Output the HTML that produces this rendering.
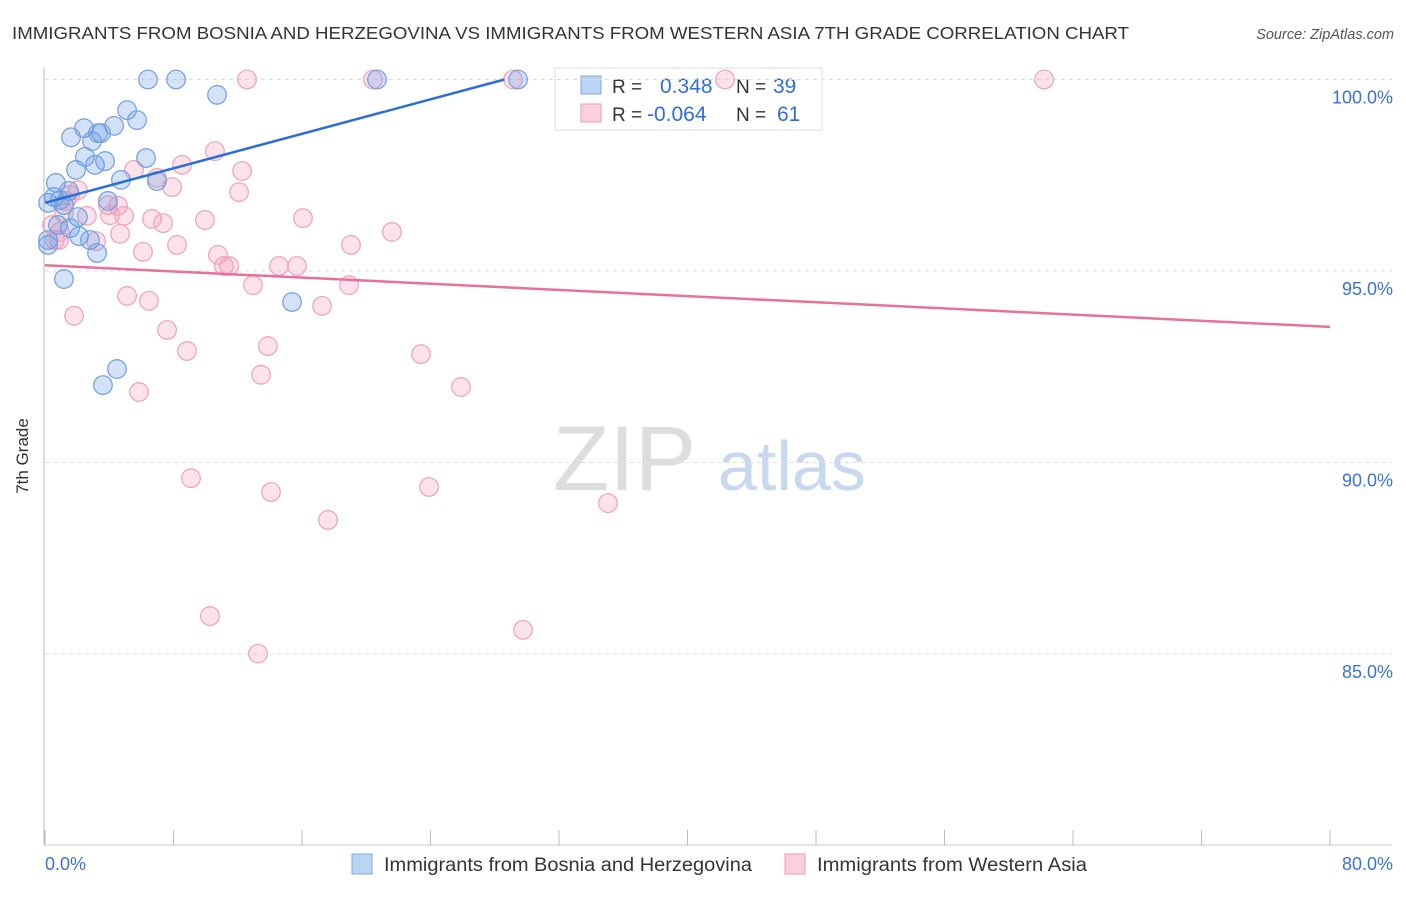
<!DOCTYPE html>
<html><head><meta charset="utf-8"><style>
body{margin:0;background:#fff;font-family:"Liberation Sans",sans-serif}
svg text{font-family:"Liberation Sans",sans-serif}
</style></head><body>
<svg id="chart" width="1406" height="892">
<text x="12" y="39" font-size="17.5" fill="#333" textLength="1117" lengthAdjust="spacingAndGlyphs">IMMIGRANTS FROM BOSNIA AND HERZEGOVINA VS IMMIGRANTS FROM WESTERN ASIA 7TH GRADE CORRELATION CHART</text>
<text x="1394" y="39" font-size="14.5" fill="#555" font-style="italic" text-anchor="end">Source: ZipAtlas.com</text>
<text x="28" y="456" font-size="17" fill="#333" transform="rotate(-90 28 456)" text-anchor="middle">7th Grade</text>
<g><text x="553" y="490" font-size="92" fill="#ddd" font-family="Liberation Serif,serif">ZIP</text><text x="718" y="490" font-size="70" fill="#c8d8ef">atlas</text></g>
<g>
<rect x="555" y="68" width="267" height="62" fill="#fff" stroke="#ddd"/>
<rect x="581" y="76" width="20" height="18" fill="#bcd4f3" stroke="#7ea8e0"/>
<rect x="581" y="104" width="20" height="18" fill="#fbd0de" stroke="#f09ab8"/>
<text x="612" y="93" font-size="19" fill="#333">R = </text><text x="660" y="93" font-size="21" fill="#2e6fd6">0.348</text>
<text x="736" y="93" font-size="19" fill="#333">N = </text><text x="773" y="93" font-size="21" fill="#2e6fd6">39</text>
<text x="612" y="121" font-size="19" fill="#333">R = </text><text x="647" y="121" font-size="21" fill="#2e6fd6">-0.064</text>
<text x="736" y="121" font-size="19" fill="#333">N = </text><text x="777" y="121" font-size="21" fill="#2e6fd6">61</text>
</g>
<g id="grid"></g><g id="axes"></g><g id="pts"></g><g id="lines"></g>
<g>
<rect x="352" y="854" width="20" height="20" fill="#bcd4f3" stroke="#7ea8e0"/>
<text x="384" y="871" font-size="19" fill="#333" textLength="368" lengthAdjust="spacingAndGlyphs">Immigrants from Bosnia and Herzegovina</text>
<rect x="785" y="854" width="20" height="20" fill="#fbd0de" stroke="#f09ab8"/>
<text x="817" y="871" font-size="19" fill="#333" textLength="270" lengthAdjust="spacingAndGlyphs">Immigrants from Western Asia</text>
</g>
</svg>
<script>
const yTicks=[100,95,90,85];
const yTickLabels=["100.0%","95.0%","90.0%","85.0%"];
const xTickVals=[0,8,16,24,32,40,48,56,64,72,80];
const blueX=[6.41,8.16,20.67,29.45,10.71,5.11,1.62,2.43,3.30,3.49,4.30,5.73,2.93,6.29,2.49,3.74,1.93,3.11,4.73,6.97,0.68,0.56,1.49,0.19,1.18,2.05,3.92,0.81,1.56,2.12,2.80,3.24,0.19,0.19,1.18,4.48,3.61,15.38,0.93];
const blueY=[100,100,100,100,99.6,99.2,98.49,98.73,98.60,98.60,98.79,98.94,98.39,97.95,97.98,97.87,97.64,97.77,97.38,97.35,97.30,96.93,97.09,96.78,96.72,96.41,96.83,96.20,96.12,95.91,95.81,95.47,95.81,95.68,94.79,92.44,92.02,94.19,96.85];
const pinkX=[12.58,20.42,29.14,42.34,62.20,10.58,5.54,8.53,12.27,6.97,7.91,12.08,2.05,1.31,3.92,4.55,4.92,6.66,7.35,9.96,16.06,21.60,1.18,2.61,4.67,3.18,0.87,8.22,6.10,10.77,19.05,11.14,11.46,14.57,15.69,12.95,18.93,5.11,6.47,17.25,1.81,7.60,8.84,13.88,23.41,13.45,25.90,5.85,9.09,14.07,23.91,17.62,35.05,10.27,29.76,13.26,0.62,0.44,0.93,1.56,4.05];
const pinkY=[100,100,100,100,100,98.13,97.64,97.77,97.61,97.43,97.19,97.06,97.11,96.83,96.72,96.70,96.44,96.36,96.25,96.33,96.38,96.02,96.51,96.44,95.97,95.78,95.81,95.68,95.50,95.42,95.68,95.13,95.13,95.13,95.13,94.63,94.63,94.35,94.22,94.09,93.83,93.46,92.91,93.04,92.83,92.29,91.97,91.84,89.59,89.23,89.36,88.50,88.94,85.99,85.63,85.01,95.81,96.20,96.02,96.98,96.46];
const blueTrend=[[0,96.78],[28.6,100]];
const pinkTrend=[[0,95.15],[80,93.54]];
const NS="http://www.w3.org/2000/svg";
const sx=v=>45+v/80*1285;
const sy=v=>79.5+(100-v)/5*191.5;
function mk(tag,at,parent){const e=document.createElementNS(NS,tag);for(const k in at)e.setAttribute(k,at[k]);document.getElementById(parent).appendChild(e);return e;}
yTicks.forEach((t,i)=>{
 const l=mk('line',{x1:45,x2:1392,y1:sy(t),y2:sy(t),stroke:'#ddd','stroke-dasharray':'4,4'},'grid');
 
 
 const tx=mk('text',{x:1393,y:sy(t)+24,'font-size':18,fill:'#3a72d4','text-anchor':'end'},'grid');
 tx.textContent=yTickLabels[i];
 
 
});
const ax=mk('line',{x1:44,x2:44,y1:68,y2:845,stroke:'#bbb'},'axes');


const bx=mk('line',{x1:44,x2:1392,y1:845,y2:845,stroke:'#ccc'},'axes');


xTickVals.forEach(v=>{
 const t=mk('line',{x1:sx(v),x2:sx(v),y1:830,y2:845,stroke:'#bbb'},'axes');
 
 
});
[[0,"0.0%",'start',45],[80,"80.0%",'end',1393]].forEach(a=>{
 const t=mk('text',{x:a[3],y:870,'font-size':18,fill:'#3a72d4','text-anchor':a[2]},'axes');
 t.textContent=a[1];
 
 
});
function pts(X,Y,fill,stroke,name){
 X.forEach((x,i)=>{
  const c=mk('circle',{cx:sx(x),cy:sy(Y[i]),r:9.3,fill:fill,stroke:stroke,'stroke-width':1.2},'pts');
  
  
 });
}
pts(pinkX,pinkY,'rgba(244,160,190,0.3)','#eea0bb','western-asia-point');
pts(blueX,blueY,'rgba(110,160,230,0.3)','#6f9fe0','bosnia-point');
const bl=mk('line',{x1:sx(blueTrend[0][0]),y1:sy(blueTrend[0][1]),x2:sx(blueTrend[1][0]),y2:sy(blueTrend[1][1]),stroke:'#2a6fd6','stroke-width':2.5},'lines');


const pl=mk('line',{x1:sx(pinkTrend[0][0]),y1:sy(pinkTrend[0][1]),x2:sx(pinkTrend[1][0]),y2:sy(pinkTrend[1][1]),stroke:'#e8709a','stroke-width':2.5},'lines');


</script>
</body></html>
